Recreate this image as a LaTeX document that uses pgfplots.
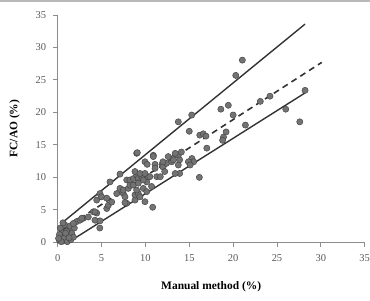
\documentclass[border=0pt]{standalone}
\usepackage{pgfplots}
\pgfplotsset{compat=1.18}
\usepackage{fontspec}
\setmainfont{Liberation Serif}

\pgfplotstableread{
x y
0.2 0.3
0.4 0.8
0.6 0.2
0.8 1.2
0.5 1.6
1.0 0.5
1.2 1.0
0.3 2.2
0.8 2.7
1.2 2.0
1.6 1.4
0.7 0.6
1.1 0.1
0.2 1.2
1.5 0.4
0.6 3.0
1.0 1.7
1.4 2.5
0.9 1.4
1.9 2.2
1.8 0.8
0.4 0.1
1.3 0.7
0.1 0.6
2.17 3.2
2.54 3.4
2.92 3.7
3.49 3.9
4.06 4.7
4.45 4.5
4.25 3.4
4.82 3.3
4.8 2.2
1.78 2.9
2.74 3.7
4.25 4.7
4.45 6.5
4.82 7.5
5.0 7.0
5.59 6.8
5.59 5.2
5.77 5.7
6.16 6.2
5.96 9.3
7.1 10.5
7.87 9.6
6.73 7.5
7.48 7.5
7.1 8.3
7.48 8.05
8.05 8.3
8.24 8.8
8.62 8.8
7.67 7.0
7.87 6.0
7.67 6.1
8.81 6.5
8.81 7.3
9.19 7.5
9.38 7.0
9.76 8.3
9.0 8.05
10.15 9.3
10.15 7.8
9.95 6.25
10.83 5.4
8.24 9.6
8.62 9.8
9.0 10.35
9.19 9.85
9.58 10.1
9.76 9.6
10.3 10.1
10.5 10.1
11.3 10.1
10.7 8.6
9.19 9.1
8.81 10.9
9.38 10.6
9.95 10.6
9.0 13.7
9.08 13.8
9.95 12.4
10.2 12.0
10.9 13.4
10.9 13.2
11.1 12.0
11.1 11.4
11.9 12.0
12.0 11.6
12.4 12.15
13.0 12.4
13.1 12.9
13.75 13.4
13.9 12.7
13.9 10.6
13.4 10.6
12.2 10.9
11.7 10.1
13.75 18.55
15.28 19.6
15.0 17.1
16.2 16.5
16.6 16.7
16.9 16.35
18.6 20.5
19.45 21.1
20.0 19.6
19.2 17.0
18.9 16.2
18.8 15.7
17.0 14.5
14.1 13.9
13.4 13.7
12.6 13.2
12.0 12.4
13.2 12.7
13.75 11.9
15.3 12.9
15.5 12.4
14.9 12.4
15.1 11.9
16.15 10.0
21.05 28.05
20.3 25.7
28.2 23.4
24.2 22.5
23.1 21.7
26.0 20.5
27.6 18.55
21.4 18.05
}\measurements

\definecolor{axisgray}{gray}{0.55}
\definecolor{ticktext}{gray}{0.35}
\definecolor{markfill}{gray}{0.45}
\definecolor{markedge}{gray}{0.28}
\definecolor{linedark}{gray}{0.2}

\begin{document}
\begin{tikzpicture}
\useasboundingbox (-57.7bp,-58.7bp) rectangle (312.3bp,242.3bp);
\draw[gray!55, line width=1.6bp] (-57.7bp,241.5bp) -- (312.3bp,241.5bp);
\begin{axis}[
  scale only axis,
  width=307bp, height=227.3bp,
  xmin=0, xmax=35, ymin=0, ymax=35,
  xtick={0,5,...,35}, ytick={0,5,...,35},
  axis x line*=bottom, axis y line*=left,
  axis line style={axisgray, line width=0.9bp, -},
  tick style={axisgray, line width=0.9bp},
  tick align=outside,
  major tick length=5bp,
  /pgf/number format/assume math mode=true,
  tick label style={font=\fontsize{10.5}{12}\selectfont, text=ticktext},
  xticklabel style={yshift=-4bp},
  yticklabel style={xshift=-3bp},
  xlabel={\textbf{Manual method (\%)}},
  ylabel={\textbf{FC/AO (\%)}},
  label style={font=\fontsize{11.5}{13}\selectfont},
  xlabel style={yshift=-13bp},
  ylabel style={yshift=9bp},
  clip=false,
]
% upper limit
\addplot[linedark, line width=1.4bp] coordinates {(0.5,3.0) (28.2,33.6)};
% lower limit
\addplot[linedark, line width=1.4bp] coordinates {(1.8,0.5) (28.2,23.0)};
% fitted line
\addplot[linedark, line width=1.6bp, dash pattern=on 6bp off 4.5bp] coordinates {(0.5,1.9) (30.1,27.7)};
% individual measurements
\addplot[only marks, mark=*, mark size=3.1bp,
  mark options={fill=markfill, draw=markedge, line width=0.5bp}]
  table[x=x, y=y] {\measurements};
\end{axis}
\end{tikzpicture}
\end{document}
